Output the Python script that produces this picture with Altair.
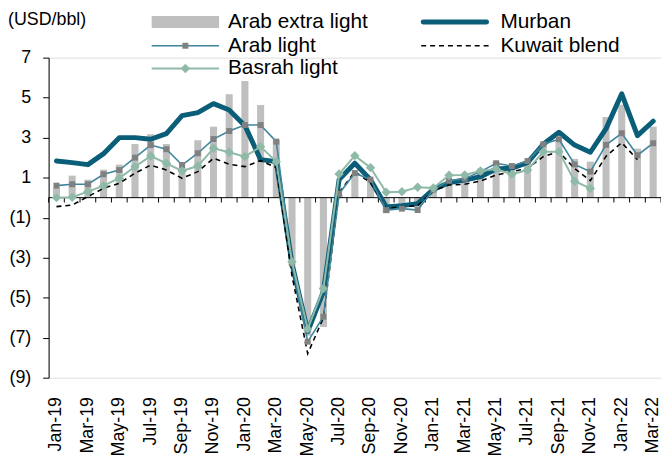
import altair as alt
import pandas as pd

months = ["Jan-19", "Feb-19", "Mar-19", "Apr-19", "May-19", "Jun-19", "Jul-19", "Aug-19",
          "Sep-19", "Oct-19", "Nov-19", "Dec-19", "Jan-20", "Feb-20", "Mar-20", "Apr-20",
          "May-20", "Jun-20", "Jul-20", "Aug-20", "Sep-20", "Oct-20", "Nov-20", "Dec-20",
          "Jan-21", "Feb-21", "Mar-21", "Apr-21", "May-21", "Jun-21", "Jul-21", "Aug-21",
          "Sep-21", "Oct-21", "Nov-21", "Dec-21", "Jan-22", "Feb-22", "Mar-22"]

arab_extra_light = [0.5, 1.1, 0.9, 1.4, 1.65, 2.68, 3.17, 2.68, 1.5, 2.87, 3.55, 5.17, 5.83,
                    4.63, 2.88, -3.4, -6.9, -6.47, 0.15, 1.2, 0.82, -0.78, -0.55, -0.5, 0.4,
                    0.9, 0.97, 1.38, 1.8, 1.6, 1.83, 2.72, 2.83, 1.94, 1.8, 4.03, 4.65, 2.45, 3.55]
murban = [1.83, 1.75, 1.65, 2.2, 3.0, 3.0, 2.92, 3.2, 4.1, 4.25, 4.7, 4.38, 3.6, 1.9, 1.8,
          -3.3, -6.7, -4.7, 0.9, 1.72, 0.9, -0.46, -0.4, -0.3, 0.41, 0.75, 0.88, 1.05, 1.43,
          1.47, 1.75, 2.67, 3.27, 2.63, 2.27, 3.45, 5.19, 3.1, 3.82]
arab_light = [0.6, 0.67, 0.67, 1.17, 1.38, 2.0, 2.63, 2.42, 1.63, 2.22, 2.93, 3.33, 3.63,
              3.63, 2.8, -3.3, -7.2, -5.95, 0.2, 1.23, 0.9, -0.62, -0.55, -0.62, 0.4, 0.85,
              0.95, 1.3, 1.72, 1.58, 1.83, 2.67, 2.92, 1.66, 1.3, 2.64, 3.22, 2.12, 2.72]
kuwait_blend = [-0.45, -0.37, 0.05, 0.47, 0.72, 1.22, 1.63, 1.38, 0.97, 1.3, 1.97, 1.67, 1.55,
                1.85, 1.5, -3.9, -7.8, -6.0, 0.25, 1.3, 0.75, -0.55, -0.45, -0.4, 0.35, 0.63,
                0.67, 0.83, 1.13, 1.3, 1.47, 2.05, 2.3, 1.45, 0.85, 2.07, 2.75, 1.9, None]
basrah_light = [0.0, 0.02, 0.3, 0.6, 0.97, 1.55, 2.08, 1.72, 1.33, 1.58, 2.47, 2.27, 2.05,
                2.55, 1.8, -3.2, -6.56, -4.54, 1.18, 2.1, 1.5, 0.27, 0.3, 0.52, 0.48, 1.12,
                1.13, 1.33, 1.43, 1.17, 1.38, 2.3, 2.3, 0.82, 0.46, None, None, None, None]

y_ticks = [-9, -7, -5, -3, -1, 1, 3, 5, 7]

FONT = "Liberation Sans"
W, H = 618, 323

C_BAR = "#BFBFBF"
C_MURBAN = "#0B5E78"
C_ARAB = "#3F869C"
C_SQ = "#808080"
C_BASRAH = "#8FBAA8"


def frame(vals):
    return pd.DataFrame({"month": months, "value": vals}).dropna()


xscale = alt.Scale(domain=months, paddingInner=0, paddingOuter=0)
yscale = alt.Scale(domain=[-9, 7], nice=False, zero=False)

x_axis = alt.Axis(values=months[::2], labelAngle=-90, domain=False, ticks=False,
                  tickSize=0, labelPadding=19, title=None, labelFontSize=18,
                  labelFont=FONT, labelColor="black", grid=False)
y_axis = alt.Axis(values=y_ticks, title=None, grid=False,
                  labelExpr="datum.value < 0 ? '(' + abs(datum.value) + ')' : datum.value + '\u00a0'",
                  labelFontSize=18, labelFont=FONT, labelColor="black",
                  domain=True, domainColor="black", domainWidth=1,
                  ticks=True, tickColor="black", tickSize=6, labelPadding=12)

x_enc = alt.X("month:N", sort=months, scale=xscale, axis=x_axis)
y_enc = alt.Y("value:Q", scale=yscale, axis=y_axis)
y_zero = alt.YDatum(0, scale=yscale, axis=y_axis)

bars = alt.Chart(frame(arab_extra_light)).mark_bar(
    color=C_BAR, width=alt.RelativeBandSize(0.45)
).encode(x=x_enc, y=y_enc)

one = pd.DataFrame({"k": [0]})
month_df = pd.DataFrame({"month": months})

# zero line with small downward ticks at month boundaries
zero_line = alt.Chart(one).mark_rule(color="black", strokeWidth=1).encode(y=y_zero)
zero_ticks = alt.Chart(month_df).mark_tick(
    orient="vertical", size=5, thickness=1, color="black", yOffset=2.5, opacity=1
).encode(x=alt.X("month:N", sort=months, scale=xscale, axis=x_axis, bandPosition=0),
         y=y_zero)
zero_tick_end = alt.Chart(month_df.tail(1)).mark_tick(
    orient="vertical", size=5, thickness=1, color="black", yOffset=2.5, opacity=1
).encode(x=alt.X("month:N", sort=months, scale=xscale, axis=x_axis, bandPosition=1),
         y=y_zero)

murban_line = alt.Chart(frame(murban)).mark_line(
    color=C_MURBAN, strokeWidth=5, strokeJoin="round", strokeCap="round"
).encode(x=x_enc, y=y_enc)

kuwait_line = alt.Chart(frame(kuwait_blend)).mark_line(
    color="black", strokeWidth=1.6, strokeDash=[5, 4]
).encode(x=x_enc, y=y_enc)

arab_line = alt.Chart(frame(arab_light)).mark_line(
    color=C_ARAB, strokeWidth=1.6,
    point=alt.OverlayMarkDef(shape="square", size=36, color=C_SQ, filled=True, opacity=1)
).encode(x=x_enc, y=y_enc)

basrah_line = alt.Chart(frame(basrah_light)).mark_line(
    color=C_BASRAH, strokeWidth=2,
    point=alt.OverlayMarkDef(shape="diamond", size=90, color=C_BASRAH, filled=True, opacity=1)
).encode(x=x_enc, y=y_enc)

title_txt = alt.Chart(one).mark_text(
    align="left", baseline="middle", fontSize=18, font=FONT, color="black"
).encode(x=alt.value(-41), y=alt.value(-38), text=alt.value("(USD/bbl)"))

# legend
L1X, L2X = 104, 376
SW = 68
TX1, TX2 = 181, 456
R1, R2, R3 = -36, -12, 11

leg_bar = alt.Chart(one).mark_rect(color=C_BAR).encode(
    x=alt.value(L1X), x2=alt.value(L1X + SW), y=alt.value(R1 - 6), y2=alt.value(R1 + 6))
leg_murban = alt.Chart(one).mark_rule(color=C_MURBAN, strokeWidth=5, strokeCap="round").encode(
    x=alt.value(L2X + 2), x2=alt.value(L2X + SW - 2), y=alt.value(R1))
leg_arab = alt.Chart(one).mark_rule(color=C_ARAB, strokeWidth=1.6).encode(
    x=alt.value(L1X), x2=alt.value(L1X + SW), y=alt.value(R2))
leg_arab_pt = alt.Chart(one).mark_point(shape="square", size=36, color=C_SQ, filled=True, opacity=1).encode(
    x=alt.value(L1X + SW / 2), y=alt.value(R2))
leg_kuwait = alt.Chart(one).mark_rule(color="black", strokeWidth=1.6, strokeDash=[5, 4]).encode(
    x=alt.value(L2X), x2=alt.value(L2X + SW), y=alt.value(R2))
leg_basrah = alt.Chart(one).mark_rule(color=C_BASRAH, strokeWidth=2).encode(
    x=alt.value(L1X), x2=alt.value(L1X + SW), y=alt.value(R3))
leg_basrah_pt = alt.Chart(one).mark_point(shape="diamond", size=90, color=C_BASRAH, filled=True, opacity=1).encode(
    x=alt.value(L1X + SW / 2), y=alt.value(R3))

leg_labels = pd.DataFrame({
    "label": ["Arab extra light", "Murban", "Arab light", "Kuwait blend", "Basrah light"],
    "px": [TX1, TX2, TX1, TX2, TX1],
    "py": [R1, R1, R2, R2, R3],
})
leg_text = alt.Chart(leg_labels).mark_text(
    align="left", baseline="middle", fontSize=21, font=FONT, color="black"
).encode(x=alt.X("px:Q", scale=None, axis=None), y=alt.Y("py:Q", scale=None, axis=None),
         text="label:N")

chart = alt.layer(
    bars, zero_line, zero_ticks, zero_tick_end,
    murban_line, kuwait_line, arab_line, basrah_line,
    title_txt, leg_bar, leg_murban, leg_arab, leg_arab_pt, leg_kuwait,
    leg_basrah, leg_basrah_pt, leg_text
).resolve_scale(x="shared", y="shared").properties(
    width=W, height=H,
    autosize=alt.AutoSizeParams(type="none"),
    padding={"left": 41, "top": 48, "right": 0, "bottom": 83},
).configure_view(stroke=None).configure(background="white")

chart.save("out.html", embed_options={"renderer": "svg", "actions": False})
